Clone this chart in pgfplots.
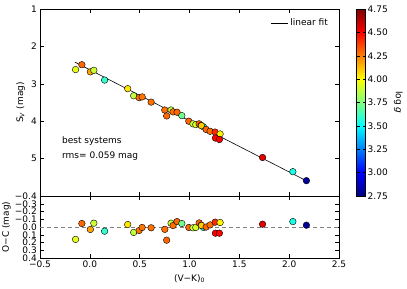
\documentclass[border=0pt]{standalone}
\usepackage{pgfplots}
\usepackage{pgfplotstable}
\pgfplotsset{compat=1.18}
\usepackage{fontspec}
\setmainfont{DejaVu Sans}
\pgfplotstableread{
vk s oc logg
-0.143 2.62 0.160 3.95
-0.080 2.49 -0.045 4.30
0.005 2.68 0.032 4.18
0.040 2.64 -0.049 3.90
0.148 2.90 0.054 3.60
0.380 3.13 -0.032 4.05
0.440 3.32 0.070 3.88
0.495 3.37 0.045 4.27
0.525 3.35 0.006 4.27
0.615 3.49 0.010 4.28
0.752 3.70 0.030 4.28
0.771 3.86 0.170 4.30
0.815 3.70 -0.049 3.88
0.835 3.75 -0.019 4.28
0.875 3.76 -0.070 4.30
0.923 3.85 -0.045 3.72
0.993 4.00 0.006 4.30
1.035 4.07 0.010 3.90
1.063 4.09 0.006 3.92
1.097 4.07 -0.053 4.30
1.117 4.11 -0.023 4.38
1.140 4.15 0.006 3.55
1.120 4.12 -0.020 4.10
1.167 4.22 0.000 4.30
1.207 4.27 -0.027 4.28
1.257 4.29 -0.062 4.42
1.307 4.34 -0.058 4.02
1.260 4.45 0.080 4.50
1.300 4.49 0.080 4.50
1.733 4.97 -0.036 4.55
2.037 5.35 -0.070 3.55
2.173 5.59 -0.023 2.80
}\data
\begin{document}
\fontsize{9}{11}\selectfont
\begin{tikzpicture}
\pgfplotsset{
  common/.style={
    width=299pt, scale only axis,
    xmin=-0.5, xmax=2.5,
    xtick={-0.5,0,0.5,1,1.5,2,2.5},
    tick align=inside,
    major tick length=4pt,
    tick style={black, line width=0.5pt},
    axis line style={line width=0.8pt},
    every tick label/.append style={font=\fontsize{9}{11}\selectfont},
    label style={font=\fontsize{9}{11}\selectfont},
  },
  pts/.style={scatter, only marks, mark=*, mark size=3.3pt,
    point meta=explicit,
    scatter/use mapped color={draw=black, fill=mapped color},
    line width=0.4pt},
}
\begin{axis}[common, name=bot, at={(0,0)}, anchor=south west,
  height=62pt,
  y dir=reverse, ymin=-0.4, ymax=0.4,
  ytick={-0.4,-0.3,-0.2,-0.1,0,0.1,0.2,0.3,0.4},
  yticklabels={−0.4,−0.3,−0.2,−0.1,0.0,0.1,0.2,0.3,0.4},
  xticklabels={−0.5,0.0,0.5,1.0,1.5,2.0,2.5},
  xlabel={(V−K)\textsubscript{0}},
  ylabel={O−C (mag)},
  ylabel style={yshift=-2pt},
  colormap/jet, point meta min=2.75, point meta max=4.75,
]
\addplot[gray, dashed, line width=1pt, dash pattern=on 4pt off 3pt] coordinates {(-0.5,0) (2.5,0)};
\addplot[pts] table[x=vk, y=oc, meta=logg] {\data};
\end{axis}
\begin{axis}[common, name=top, at={(0,62pt)}, anchor=south west,
  height=187pt,
  y dir=reverse, ymin=1, ymax=6,
  ytick={1,2,3,4,5,6},
  yticklabels={1,2,3,4,5,{}},
  xticklabels={},
  ylabel={S\textsubscript{\textit{V}} (mag)},
  colormap/jet, point meta min=2.75, point meta max=4.75,
  colorbar,
  colorbar style={
    width=9pt,
    at={(parent axis.north east)}, anchor=north west, xshift=9pt,
    ytick={2.75,3,3.25,3.5,3.75,4,4.25,4.5,4.75},
    yticklabels={2.75,3.00,3.25,3.50,3.75,4.00,4.25,4.50,4.75},
    yticklabel style={font=\fontsize{9}{11}\selectfont, xshift=-1pt},
    ylabel={log \textit{g}},
    ylabel style={rotate=180, font=\fontsize{9}{11}\selectfont},
    major tick length=3pt,
    axis line style={line width=0.6pt},
  },
  legend style={draw=none, fill=none, at={(0.98,0.97)}, anchor=north east,
    font=\fontsize{9}{11}\selectfont},
  legend cell align=left,
]
\addplot[black, line width=0.6pt] coordinates {(-0.15,2.42) (2.17,5.59)};
\addlegendentry{linear fit}
\addplot[pts, forget plot] table[x=vk, y=s, meta=logg] {\data};
\node[anchor=west] at (axis cs:-0.31,4.52) {best systems};
\node[anchor=west] at (axis cs:-0.31,4.92) {rms= 0.059 mag};
\end{axis}
\pgfresetboundingbox
\path[use as bounding box] (-40pt,-31pt) rectangle (367pt,258pt);
\end{tikzpicture}
\end{document}
